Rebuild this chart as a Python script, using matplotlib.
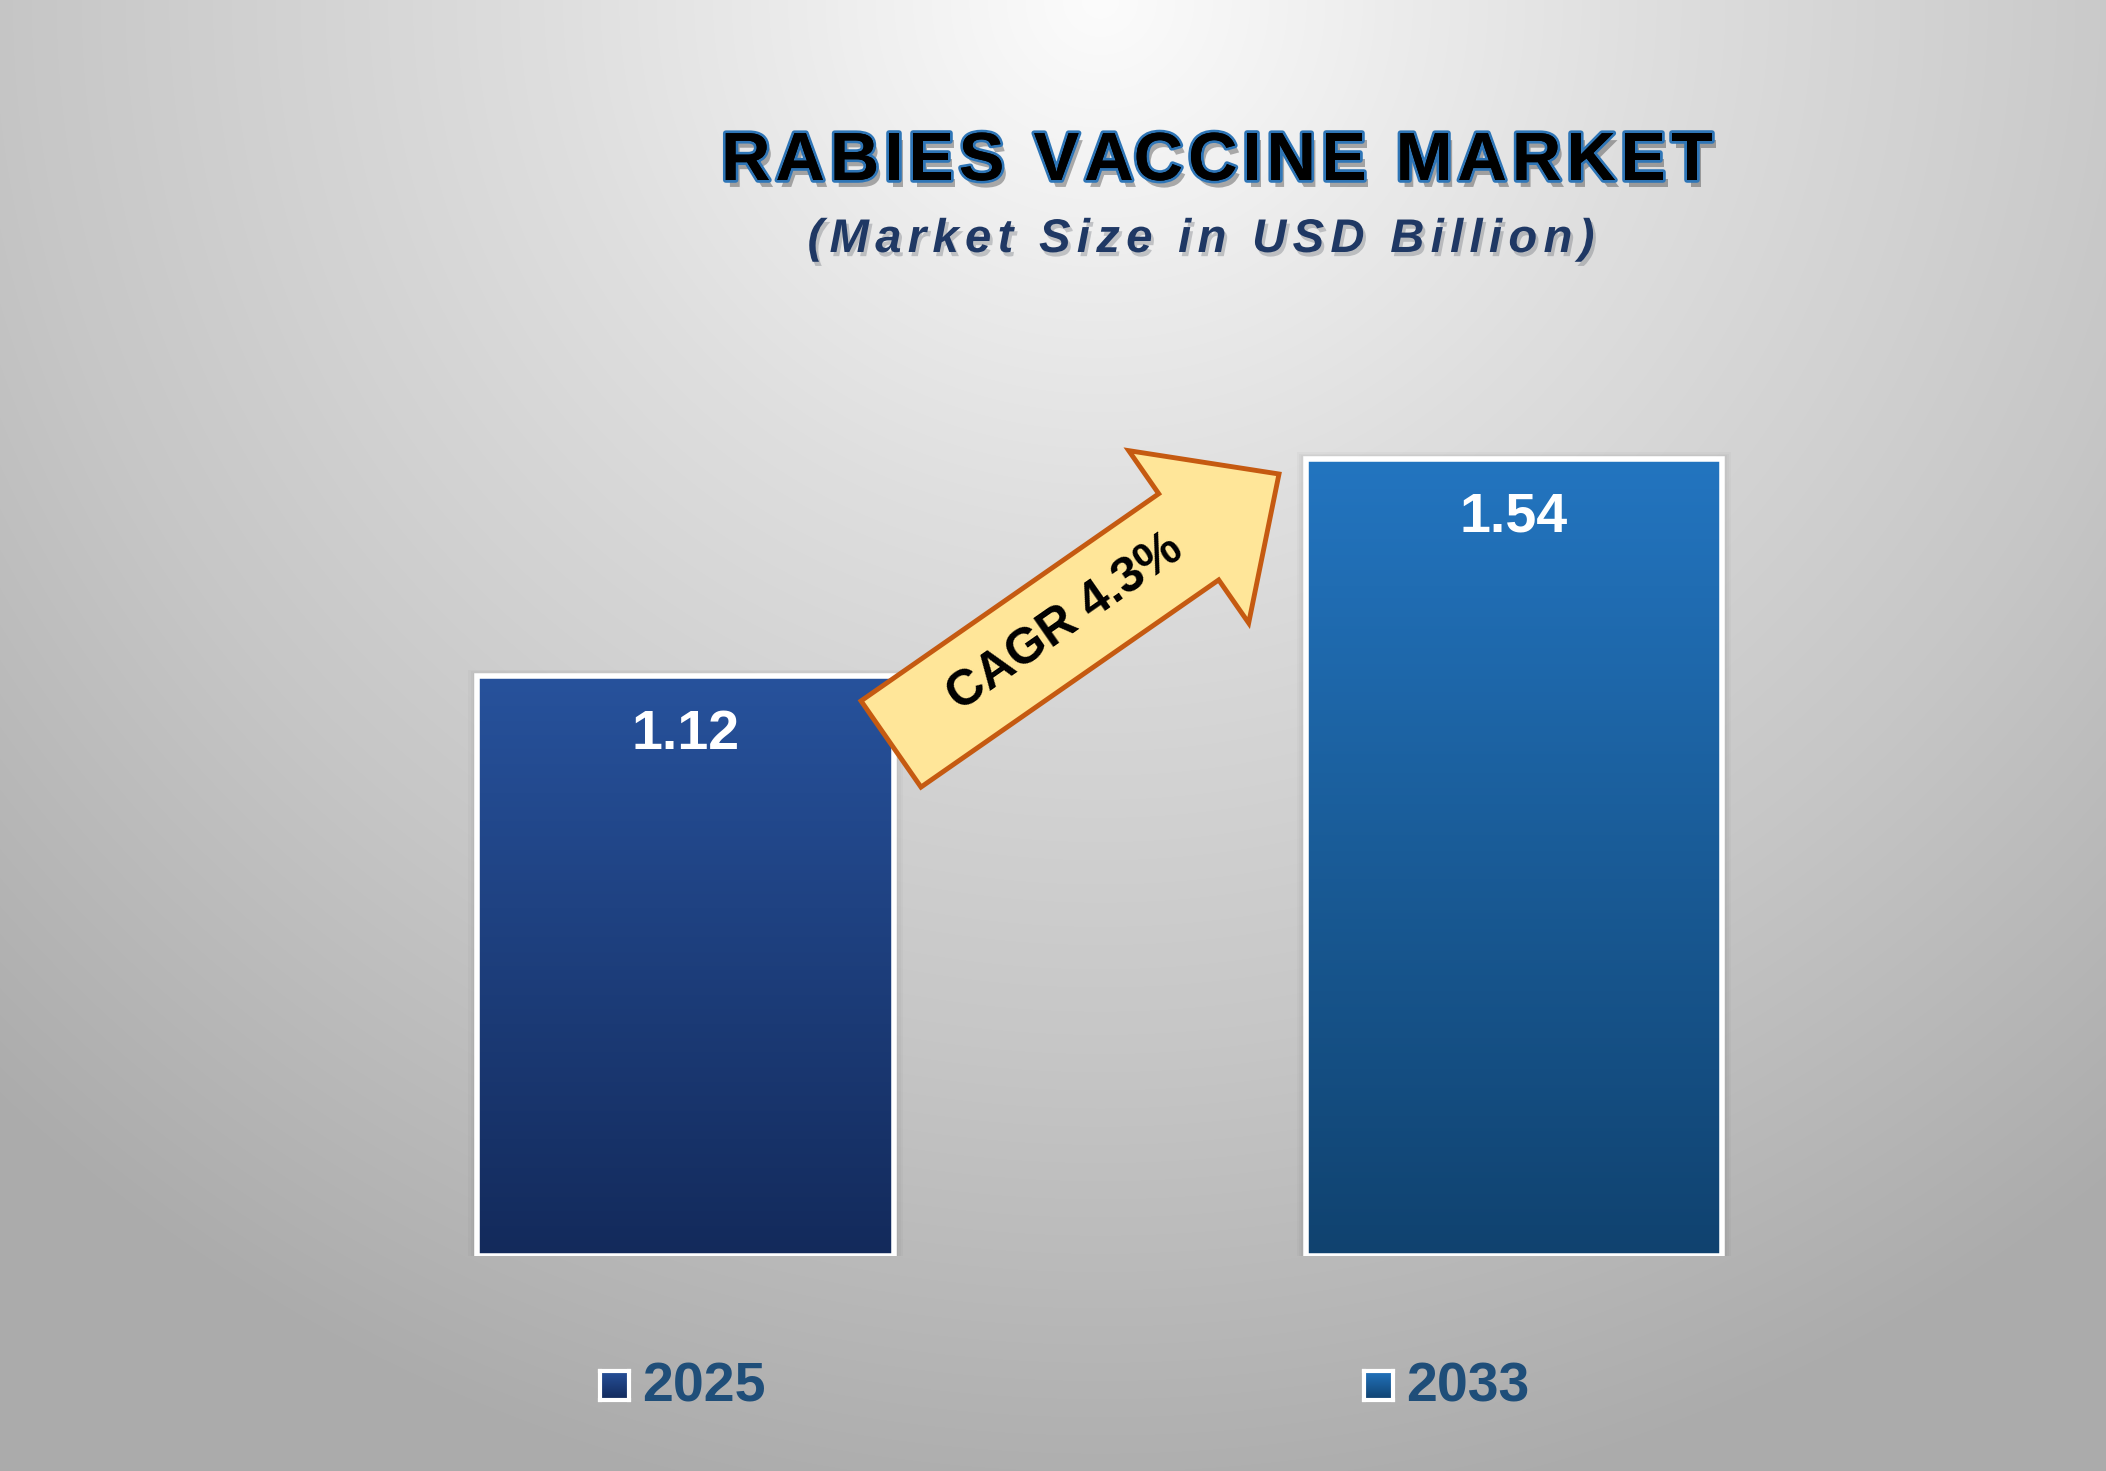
import numpy as np
import matplotlib
matplotlib.use('Agg')
import matplotlib.pyplot as plt
from matplotlib.patches import Polygon, Rectangle
from matplotlib.colors import LinearSegmentedColormap
from matplotlib.font_manager import FontProperties
import matplotlib.patheffects as pe

plt.rcParams['font.family'] = ['Liberation Sans', 'DejaVu Sans']

# data
years = ['2025', '2033']
market_size = [1.12, 1.54]
cagr_label = 'CAGR 4.3%'
title = 'RABIES VACCINE MARKET'
subtitle = '(Market Size in USD Billion)'

# gradient colours per bar (top, bottom)
bar_grad = [('#27529C', '#132A5B'), ('#2375C0', '#10426F')]

W, H = 2106, 1471
fig = plt.figure(figsize=(W / 100, H / 100), dpi=100)
renderer = fig.canvas.get_renderer()


def spaced_text(cx, cy, s, spacing, size, style='normal', **kw):
    '''draw s centred at (cx, cy) pixels with extra letter spacing in px'''
    prop = FontProperties(family='Liberation Sans', weight='bold', style=style, size=size)

    def width(t):
        stripped = t.rstrip(' ')
        w = 0.0
        if stripped:
            w = renderer.get_text_width_height_descent(stripped, prop, ismath=False)[0]
        return w + (len(t) - len(stripped)) * 0.278 * size * 100 / 72

    total = width(s) + spacing * (len(s) - 1)
    x0 = cx - total / 2
    for i, ch in enumerate(s):
        if ch == ' ':
            continue
        xi = x0 + width(s[:i]) + spacing * i
        fig.text(xi / W, cy / H, ch, ha='left', va='center', fontproperties=prop, **kw)


# radial grey background
bg = fig.add_axes([0, 0, 1, 1])
yy, xx = np.mgrid[0:H, 0:W]
r = np.sqrt(((xx - 1100) / 1600.0) ** 2 + ((yy - 0) / 1550.0) ** 2)
r = np.clip(r, 0, 1)
bg_cmap = LinearSegmentedColormap.from_list('bg', ['#FCFCFC', '#DFDFDF', '#C7C7C7', '#ABABAB'])
bg.imshow(r, cmap=bg_cmap, aspect='auto', extent=[0, 1, 0, 1], origin='upper')
bg.set_xlim(0, 1)
bg.set_ylim(0, 1)
bg.axis('off')

# main axes: bar baseline at pixel y=1256 from top
ax = fig.add_axes([0, 215 / H, 1, 1256 / H])
ax.patch.set_alpha(0)
x = np.arange(len(years))
bars = ax.bar(x, market_size, width=0.503, facecolor='none', edgecolor='white',
              linewidth=4, zorder=3)
ax.axis('off')

for b, (top, bot), v in zip(bars, bar_grad, market_size):
    x0, y0 = b.get_x(), b.get_y()
    w, h = b.get_width(), b.get_height()
    # soft shadow
    for k in range(4):
        d = 0.003 + k * 0.0025
        sh = Rectangle((x0 - d, y0), w + 2 * d, h + d * 1.2, facecolor='black',
                       alpha=0.025, edgecolor='none', zorder=1)
        ax.add_patch(sh)
    cmap = LinearSegmentedColormap.from_list('g', [bot, top])
    grad = np.linspace(0, 1, 256).reshape(-1, 1)
    im = ax.imshow(grad, cmap=cmap, aspect='auto', origin='lower',
                   extent=[x0, x0 + w, y0, y0 + h], zorder=2)
    im.set_clip_path(b)
    ax.text(b.get_x() + w / 2, v - 0.113, f'{v:.2f}', ha='center', va='center',
            color='white', fontsize=40, fontweight='bold', zorder=4)

ax.set_xlim(-0.8274, 1.7145)
ax.set_ylim(0, 2.4257)

# CAGR arrow (pixel geometry, y up)
tail = np.array([891.0, H - 744.0])
tip = np.array([1279.0, H - 474.0])
d = tip - tail
L = np.hypot(*d)
u = d / L
n = np.array([-u[1], u[0]])
shaft_w, head_w, head_l = 105.0, 210.0, 110.0
base = tip - u * head_l
pts = [tail + n * shaft_w / 2, base + n * shaft_w / 2, base + n * head_w / 2, tip,
       base - n * head_w / 2, base - n * shaft_w / 2, tail - n * shaft_w / 2]
pts = np.array(pts) / np.array([W, H])
arrow = Polygon(pts, closed=True, facecolor='#FFE699', edgecolor='#C55A11',
                linewidth=3.5, joinstyle='miter', transform=fig.transFigure, zorder=5)
fig.add_artist(arrow)
mid = (tail + u * 212) / np.array([W, H])
ang = np.degrees(np.arctan2(d[1], d[0]))
fig.text(mid[0], mid[1], cagr_label, rotation=ang, rotation_mode='anchor',
         ha='center', va='center', fontsize=36, fontweight='bold', color='black', zorder=6)

# title and subtitle
spaced_text(1217, H - 162, title, 5.3, 49, color='black',
            path_effects=[pe.SimplePatchShadow(offset=(3, -5), alpha=0.3),
                          pe.withStroke(linewidth=4, foreground='#2E75B6'),
                          pe.Normal()])
spaced_text(1201, H - 240, subtitle, 6.3, 34, style='italic', color='#1F3864',
            path_effects=[pe.SimplePatchShadow(offset=(2, -3), alpha=0.2), pe.Normal()])

# legend
grad = np.linspace(0, 1, 64).reshape(-1, 1)
for i, (yr, (top, bot)) in enumerate(zip(years, bar_grad)):
    lx = [600, 1364][i]
    sq = fig.add_axes([lx / W, 1 - 1400 / H, 29 / W, 29 / H])
    sq.imshow(grad, cmap=LinearSegmentedColormap.from_list('l', [bot, top]),
              aspect='auto', origin='lower')
    sq.set_xticks([])
    sq.set_yticks([])
    for sp in sq.spines.values():
        sp.set_edgecolor('white')
        sp.set_linewidth(3)
    fig.text((lx + 42) / W, 1 - 1388 / H, yr, ha='left', va='center', fontsize=40,
             fontweight='bold', color='#1F4E79')

fig.savefig('out.png', dpi=100)
